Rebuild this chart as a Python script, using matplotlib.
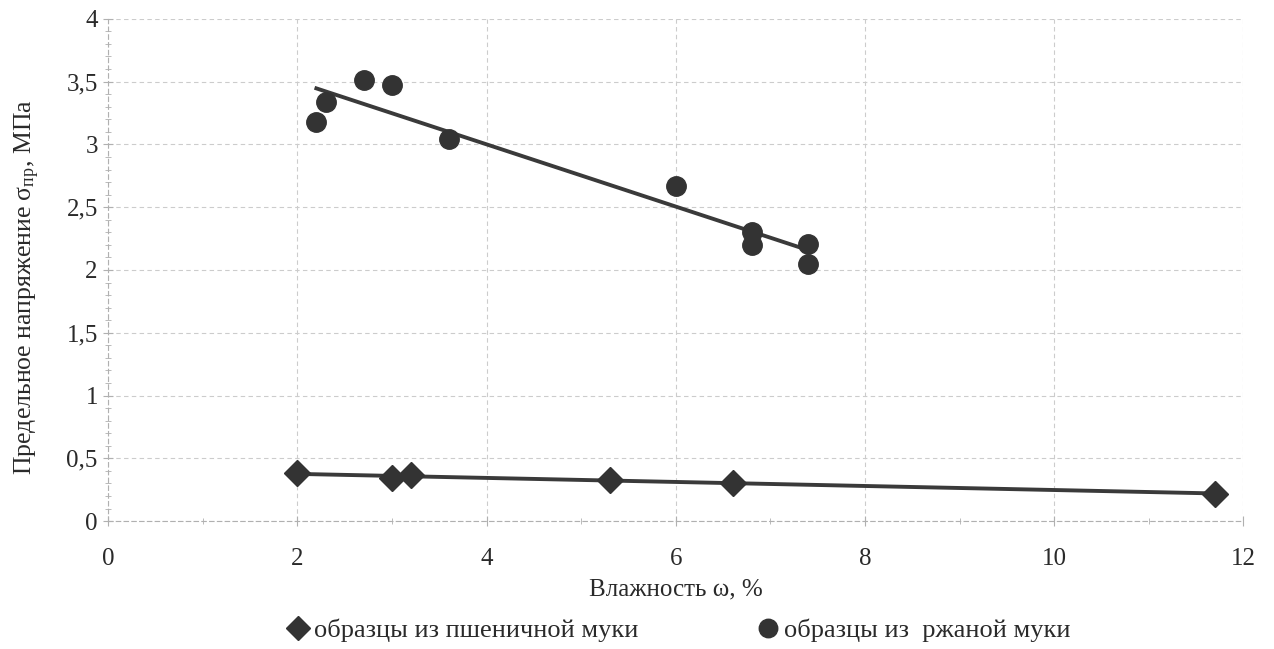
import numpy as np
import matplotlib
matplotlib.use("Agg")
import matplotlib.pyplot as plt
from matplotlib.ticker import MultipleLocator, FuncFormatter

plt.rcParams['font.family'] = ['Liberation Serif', 'DejaVu Serif']
plt.rcParams['mathtext.fontset'] = 'custom'
plt.rcParams['mathtext.rm'] = 'Liberation Serif'
plt.rcParams['mathtext.it'] = 'Liberation Serif:italic'

# wheat flour samples
wheat_x = [2.0, 3.0, 3.2, 5.3, 6.6, 11.7]
wheat_y = [0.38, 0.34, 0.37, 0.33, 0.30, 0.22]

# rye flour samples
rye_x = [2.2, 2.3, 2.7, 3.0, 3.6, 6.0, 6.8, 6.8, 7.4, 7.4]
rye_y = [3.18, 3.34, 3.51, 3.47, 3.04, 2.67, 2.30, 2.20, 2.21, 2.05]

wheat_label = 'образцы из пшеничной муки'
rye_label = 'образцы из  ржаной муки'

dark = '#333333'
grid_c = '#cccccc'
text_c = '#2a2a2a'

fig = plt.figure(figsize=(12.74, 6.49), dpi=100)
ax = fig.add_axes([0.085, 0.197, 0.891, 0.774])

# linear trend lines over the data range
for xs, ys in ((wheat_x, wheat_y), (rye_x, rye_y)):
    k, b = np.polyfit(xs, ys, 1)
    xx = np.array([min(xs), max(xs)])
    ax.plot(xx, k * xx + b, color='#3a3a3a', lw=2.8, zorder=3)

ax.plot(wheat_x, wheat_y, 'D', color=dark, ms=13, ls='none', zorder=4, label=wheat_label)
ax.plot(rye_x, rye_y, 'o', color=dark, ms=14, ls='none', zorder=4, label=rye_label)

ax.set_xlim(0, 12)
ax.set_ylim(0, 4)
ax.xaxis.set_major_locator(MultipleLocator(2))
ax.xaxis.set_minor_locator(MultipleLocator(1))
ax.yaxis.set_major_locator(MultipleLocator(0.5))
ax.yaxis.set_minor_locator(MultipleLocator(0.1))
ax.yaxis.set_major_formatter(FuncFormatter(lambda v, p: ('%g' % v).replace('.', ',')))

ax.grid(True, which='major', color=grid_c, ls=(0, (4, 3)), lw=0.8)
for s in ('top', 'right'):
    ax.spines[s].set_visible(False)
for s in ('left', 'bottom'):
    ax.spines[s].set_color('#b0b0b0')
    ax.spines[s].set_linestyle((0, (4, 3)))

ax.tick_params(which='both', direction='inout', colors='#b0b0b0', labelcolor=text_c,
               labelsize=18)
ax.tick_params(which='major', length=7)
ax.tick_params(which='minor', length=4)
ax.tick_params(axis='x', pad=16)
ax.tick_params(axis='y', pad=4)

ax.set_xlabel('Влажность ω, %', fontsize=18, color=text_c, labelpad=6)
ax.set_ylabel('Предельное напряжение σ$_{\\mathregular{пр}}$, МПа', fontsize=18.5,
              color=text_c, labelpad=8)
ax.yaxis.set_label_coords(-0.058, 0.466)

fig.legend(loc='lower center', bbox_to_anchor=(0.532, -0.026), ncol=2, frameon=False,
           fontsize=19, handlelength=1.0, handletextpad=0.1, columnspacing=4.4,
           markerscale=0.95, labelcolor=text_c)

fig.savefig('out.png', dpi=100)
